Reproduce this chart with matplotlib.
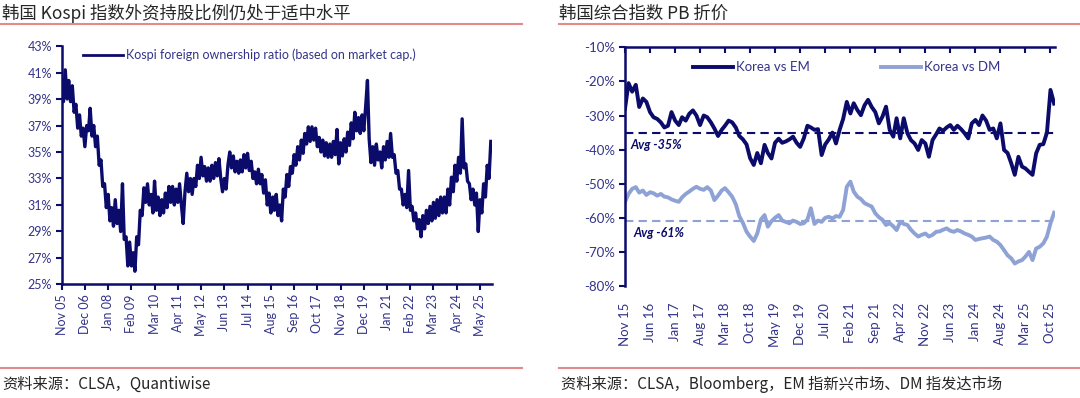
import matplotlib
matplotlib.use("Agg")
import matplotlib.pyplot as plt
import matplotlib.dates as mdates
from matplotlib.lines import Line2D
from matplotlib.ticker import FuncFormatter
import pandas as pd

plt.rcParams['font.family'] = ['Lato', 'Noto Sans CJK SC', 'DejaVu Sans']

# ---- left chart: Kospi foreign ownership ratio (%), monthly from Nov 05
# (values alternate between the top and bottom of the noisy daily band)
kospi_dates = pd.date_range('2005-11-01', '2025-11-01', freq='MS')
kospi_share = [
    40.0, 38.8, 41.2, 39.0, 40.4, 38.8, 40.0, 38.0, 38.6, 36.8,
    37.8, 36.2, 36.8, 35.4, 37.0, 36.6, 38.3, 36.2, 37.0, 35.4,
    36.2, 34.0, 34.4, 32.4, 32.6, 30.8, 31.8, 29.8, 30.8, 29.4,
    31.4, 29.6, 30.6, 29.0, 32.6, 28.4, 28.6, 26.4, 28.2, 26.4,
    27.4, 26.0, 28.6, 28.0, 30.6, 30.2, 32.3, 31.2, 32.6, 31.0,
    31.8, 30.4, 32.8, 30.6, 31.6, 30.2, 31.4, 30.4, 31.9, 30.8,
    32.4, 31.2, 32.4, 31.0, 32.2, 31.2, 32.6, 31.0, 29.6, 32.0,
    33.4, 32.0, 33.0, 31.8, 33.0, 32.4, 34.0, 33.0, 34.6, 33.2,
    33.9, 32.8, 33.8, 32.8, 34.0, 33.0, 34.2, 33.2, 34.5, 33.0,
    32.0, 33.0, 32.2, 34.0, 35.0, 33.8, 34.7, 33.5, 34.3, 33.4,
    34.4, 33.5, 34.8, 33.8, 34.9, 33.6, 34.3, 33.0, 33.5, 32.6,
    33.7, 32.6, 33.3, 31.9, 32.9, 31.0, 31.9, 30.4, 31.6, 30.6,
    31.8, 30.2, 31.0, 29.8, 32.2, 31.6, 33.3, 32.4, 33.9, 33.4,
    34.8, 34.0, 35.4, 34.4, 35.9, 34.9, 36.4, 35.6, 36.9, 35.8,
    36.9, 35.9, 36.8, 35.4, 36.1, 35.0, 35.9, 34.7, 35.7, 34.6,
    35.6, 34.6, 35.8, 34.8, 36.7, 34.1, 35.7, 34.7, 36.0, 35.0,
    36.5, 35.5, 37.2, 36.0, 38.0, 36.6, 37.6, 36.4, 37.8, 36.6,
    38.4, 40.4, 36.0, 34.2, 35.4, 34.0, 35.6, 34.4, 35.0, 33.8,
    35.4, 34.4, 35.8, 34.6, 36.4, 34.6, 34.8, 33.4, 33.6, 32.2,
    32.2, 31.0, 31.8, 30.8, 33.6, 30.6, 30.9, 29.8, 30.4, 29.2,
    29.9, 28.6, 30.2, 29.2, 30.6, 29.6, 30.9, 29.8, 31.2, 30.0,
    31.4, 30.2, 31.6, 30.4, 31.6, 30.4, 32.2, 31.0, 33.1, 32.0,
    34.0, 32.8, 34.6, 33.4, 37.5, 33.8, 34.1, 32.8, 32.6, 31.4,
    32.2, 31.0, 31.9, 29.0, 31.4, 30.4, 32.6, 31.6, 34.0, 33.0,
    35.8,
]
kospi_ticks = pd.date_range('2005-11-01', periods=19, freq='13MS')

# ---- right chart: Korea PB discount (%), monthly from Nov 15
pb_dates = pd.date_range('2015-11-01', periods=121, freq='MS')
vs_em = [
    -28.0, -20.5, -23.0, -21.0, -27.5, -25.0, -26.0, -29.0, -30.5, -31.0,
    -32.0, -33.5, -33.0, -29.0, -31.5, -32.8, -30.5, -31.5, -29.5, -28.5,
    -30.0, -32.8, -30.0, -30.5, -32.0, -33.8, -36.0, -34.2, -33.0, -31.5,
    -32.0, -33.5, -36.0, -37.0, -38.5, -42.5, -44.5, -41.0, -44.0, -38.6,
    -41.0, -42.6, -38.0, -36.8, -38.0, -37.6, -37.0, -36.2, -38.0, -39.2,
    -36.7, -33.0, -33.5, -34.2, -34.0, -41.6, -38.5, -37.0, -35.0, -38.2,
    -34.2, -31.0, -26.0, -29.4, -26.4, -28.4, -29.9, -27.0, -25.4, -27.5,
    -29.0, -32.3, -30.3, -27.4, -34.2, -36.2, -30.8, -36.7, -30.8, -35.2,
    -37.2, -38.2, -40.1, -37.2, -38.2, -42.1, -37.2, -35.5, -33.8, -34.5,
    -33.5, -32.8, -34.2, -33.0, -34.0, -35.2, -36.7, -32.3, -31.3, -32.8,
    -30.0, -31.5, -34.2, -33.8, -36.7, -32.3, -40.1, -41.0, -44.0, -47.4,
    -42.1, -45.0, -45.5, -46.5, -47.4, -41.1, -38.6, -38.4, -35.0, -22.5,
    -26.5,
]
vs_dm = [
    -55.3, -53.0, -51.5, -51.0, -52.6, -52.0, -53.3, -52.5, -52.8, -53.5,
    -53.0, -53.8, -54.0, -54.6, -55.0, -55.3, -54.0, -53.0, -52.3, -51.5,
    -50.9, -51.5, -51.8, -51.0, -52.0, -54.8, -53.5, -52.0, -51.3, -52.5,
    -53.8, -56.0, -59.5, -61.5, -64.1, -65.5, -66.8, -64.6, -60.5, -59.2,
    -62.6, -61.0, -60.0, -59.2, -60.8, -61.2, -61.6, -60.8, -61.2, -61.8,
    -61.6, -60.5, -57.2, -61.8, -60.8, -61.2, -60.0, -59.7, -60.2, -59.5,
    -59.7, -57.7, -50.9, -49.4, -52.3, -53.8, -54.5, -55.7, -56.2, -56.7,
    -58.7, -59.8, -60.6, -62.1, -61.6, -62.5, -63.6, -61.2, -61.8, -62.1,
    -63.5, -64.6, -65.5, -65.0, -64.6, -65.5, -65.0, -64.1, -64.0, -63.5,
    -63.1, -63.8, -64.1, -63.6, -64.0, -64.6, -65.0, -65.5, -66.5, -66.2,
    -66.0, -65.8, -65.5, -66.5, -67.0, -68.0, -69.5, -71.0, -71.9, -73.4,
    -72.8, -72.4, -71.4, -70.0, -72.4, -69.0, -68.5, -67.5, -65.5, -61.6,
    -58.5,
]
avg_em = -35
avg_dm = -61
pb_ticks = pd.date_range('2015-11-01', periods=18, freq='7MS')

NAVY = '#0b0b6b'
LIGHT = '#8ea2d6'
LABEL = '#34348a'
RED = '#e38b8b'
TXT = '#262626'
CJK = ['Noto Sans CJK SC', 'DejaVu Sans']

fig = plt.figure(figsize=(10.8, 3.98), dpi=100)

# ---------------- left panel
ax1 = fig.add_axes([0.0571, 0.2852, 0.3984, 0.5992])
ax1.plot(kospi_dates, kospi_share, color=NAVY, lw=2.4,
         label='Kospi foreign ownership ratio (based on market cap.)')
ax1.set_ylim(25, 43)
ax1.set_yticks(range(25, 44, 2))
ax1.yaxis.set_major_formatter(FuncFormatter(lambda v, p: f'{v:.0f}%'))
ax1.set_xlim(pd.Timestamp('2005-11-01'), pd.Timestamp('2025-11-20'))
ax1.set_xticks(kospi_ticks)
ax1.xaxis.set_major_formatter(mdates.DateFormatter('%b %y'))
for s in ['top', 'right']:
    ax1.spines[s].set_visible(False)
for s in ['left', 'bottom']:
    ax1.spines[s].set_color(NAVY)
    ax1.spines[s].set_linewidth(1.8)
ax1.tick_params(axis='both', colors=NAVY, width=1.5, length=4, labelcolor=LABEL, labelsize=9)
ax1.tick_params(axis='x', rotation=90, pad=3)
ax1.tick_params(axis='y', pad=3)
leg1 = ax1.legend(loc='center left', bbox_to_anchor=(0.0495, 0.962), frameon=False,
                  borderpad=0, borderaxespad=0, handlelength=3.2, handletextpad=0.25,
                  prop={'family': 'Lato', 'size': 9}, labelcolor=LABEL)
for h in leg1.get_lines():
    h.set_linewidth(2.0)

# ---------------- right panel
ax2 = fig.add_axes([0.5787, 0.2814, 0.3981, 0.5997])
ax2.axhline(avg_em, color=NAVY, lw=1.5, ls=(0, (4, 2.5)), zorder=1)
ax2.axhline(avg_dm, color=LIGHT, lw=1.5, ls=(0, (4, 2.5)), zorder=1)
ax2.plot(pb_dates, vs_em, color=NAVY, lw=2.8, label='Korea vs EM', zorder=3)
ax2.plot(pb_dates, vs_dm, color=LIGHT, lw=2.8, label='Korea vs DM', zorder=2)
ax2.set_ylim(-80, -10)
ax2.set_yticks(range(-80, -9, 10))
ax2.yaxis.set_major_formatter(FuncFormatter(lambda v, p: f'{v:.0f}%'))
ax2.set_xlim(pd.Timestamp('2015-11-01'), pd.Timestamp('2025-11-08'))
ax2.set_xticks(pb_ticks)
ax2.xaxis.set_major_formatter(mdates.DateFormatter('%b %y'))
for s in ['bottom', 'right']:
    ax2.spines[s].set_visible(False)
for s in ['left', 'top']:
    ax2.spines[s].set_color(NAVY)
    ax2.spines[s].set_linewidth(1.8)
ax2.tick_params(axis='y', colors=NAVY, width=1.5, length=4, labelcolor=LABEL, labelsize=9.5, pad=3)
ax2.tick_params(axis='x', top=True, bottom=False, direction='in', colors=NAVY, width=1.5,
                length=4, labelcolor=LABEL, labelsize=9.5, rotation=90, pad=12)
ax2.text(0.012, -38.7, 'Avg -35%', transform=ax2.get_yaxis_transform(), color=NAVY,
         fontsize=9, fontweight='bold', fontstyle='italic', va='center')
ax2.text(0.019, -64.5, 'Avg -61%', transform=ax2.get_yaxis_transform(), color=NAVY,
         fontsize=9, fontweight='bold', fontstyle='italic', va='center')
ax2.legend(loc='center left', bbox_to_anchor=(0.158, 0.917), frameon=False, ncol=2,
           borderpad=0, borderaxespad=0, handlelength=3.0, handletextpad=0.25,
           columnspacing=5.4, prop={'family': 'Lato', 'size': 9.5}, labelcolor=LABEL)

# ---------------- titles, rules and sources
fig.text(0.002, 0.965, '韩国 Kospi 指数外资持股比例仍处于适中水平', family=CJK,
         fontsize=12.5, color=TXT, va='center')
fig.text(0.5176, 0.965, '韩国综合指数 PB 折价', family=CJK,
         fontsize=12.5, color=TXT, va='center')
fig.add_artist(Line2D([0, 0.483], [0.939, 0.939], color=RED, lw=1.5))
fig.add_artist(Line2D([0.5176, 1.0], [0.939, 0.939], color=RED, lw=1.5))
fig.add_artist(Line2D([0, 0.483], [0.0754, 0.0754], color=RED, lw=1.5))
fig.add_artist(Line2D([0.5176, 1.0], [0.0754, 0.0754], color=RED, lw=1.5))
fig.text(0.002, 0.035, '资料来源：CLSA，Quantiwise', family=CJK,
         fontsize=11, color=TXT, va='center')
fig.text(0.5195, 0.035, '资料来源：CLSA，Bloomberg，EM 指新兴市场、DM 指发达市场', family=CJK,
         fontsize=11, color=TXT, va='center')

fig.savefig('out.png', dpi=100)
